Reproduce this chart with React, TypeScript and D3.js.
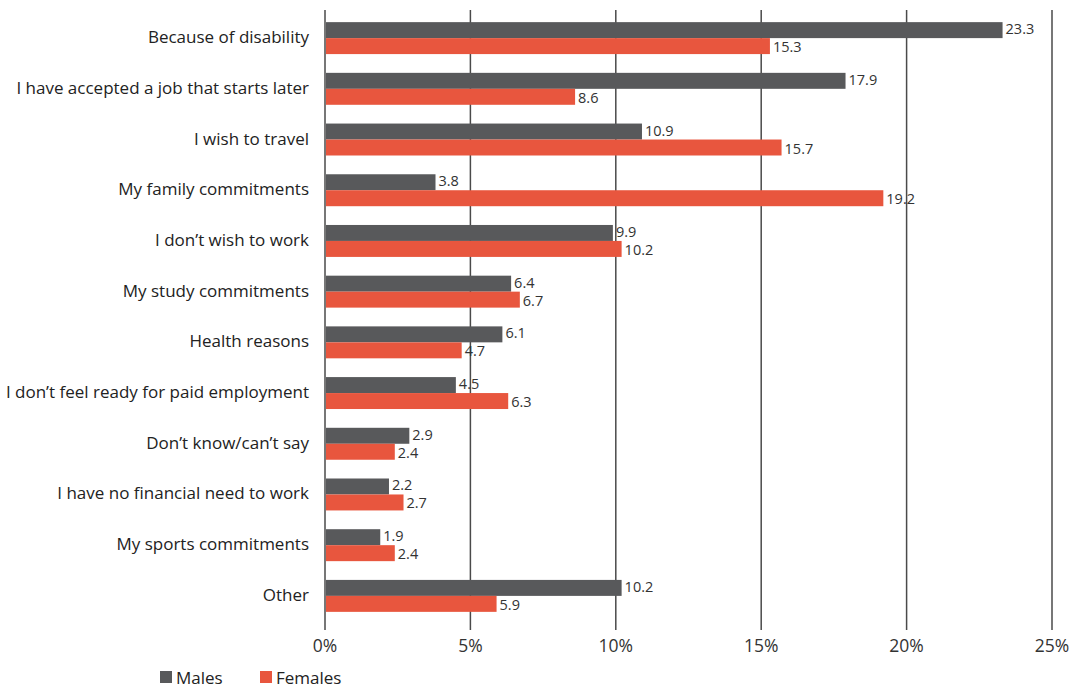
import React from "react";
import * as d3 from "d3";

const categories = [
  "Because of disability",
  "I have accepted a job that starts later",
  "I wish to travel",
  "My family commitments",
  "I don\u2019t wish to work",
  "My study commitments",
  "Health reasons",
  "I don\u2019t feel ready for paid employment",
  "Don\u2019t know/can\u2019t say",
  "I have no financial need to work",
  "My sports commitments",
  "Other",
];
const males = [23.3, 17.9, 10.9, 3.8, 9.9, 6.4, 6.1, 4.5, 2.9, 2.2, 1.9, 10.2];
const females = [15.3, 8.6, 15.7, 19.2, 10.2, 6.7, 4.7, 6.3, 2.4, 2.7, 2.4, 5.9];
const ticks = [0, 5, 10, 15, 20, 25];
const seriesNames = ["Males", "Females"];
const colors = ["#58595b", "#e8563e"];

export default function App() {
  const W = 1074, H = 687;
  const left = 325, right = 1052, top = 12, bottom = 622;
  const x = d3.scaleLinear().domain([0, 25]).range([left, right]);
  const y = d3.scaleBand().domain(categories).range([top, bottom]).paddingInner(0.37).paddingOuter(0.2);
  const sub = d3.scaleBand().domain(seriesNames).range([0, y.bandwidth()]);
  const font = "'Open Sans', 'Noto Sans', sans-serif";
  const series = [males, females];
  return (
    <svg width={W} height={H} style={{ position: "absolute", left: 0, top: 0, fontFamily: font }}>
      <rect width={W} height={H} fill="#fff" />
      {ticks.map((t) => (
        <line key={t} x1={x(t)} x2={x(t)} y1={10} y2={630} stroke="#4a4a4a" strokeWidth={1.5} />
      ))}
      {categories.map((c, i) => (
        <g key={c}>
          {series.map((vals, s) => {
            const by = (y(c) as number) + (sub(seriesNames[s]) as number);
            return (
              <g key={s}>
                <rect x={x(0) + 1} y={by} width={x(vals[i]) - x(0) - 1} height={sub.bandwidth()} fill={colors[s]} />
                <text x={x(vals[i]) + 3} y={by + sub.bandwidth() / 2 + (s === 0 ? 4 : 6)} fontSize={14.5} fill="#333">
                  {vals[i].toFixed(1)}
                </text>
              </g>
            );
          })}
          <text x={309} y={(y(c) as number) + y.bandwidth() / 2 + 5} textAnchor="end" fontSize={17} fill="#222">
            {c}
          </text>
        </g>
      ))}
      {ticks.map((t) => (
        <text key={t} x={x(t)} y={652} textAnchor="middle" fontSize={17.5} fill="#333">
          {t}%
        </text>
      ))}
      {seriesNames.map((n, s) => (
        <g key={n} transform={`translate(${160 + s * 100},671)`}>
          <rect width={12} height={12} fill={colors[s]} />
          <text x={16} y={12.5} fontSize={17} fill="#222">{n}</text>
        </g>
      ))}
    </svg>
  );
}
